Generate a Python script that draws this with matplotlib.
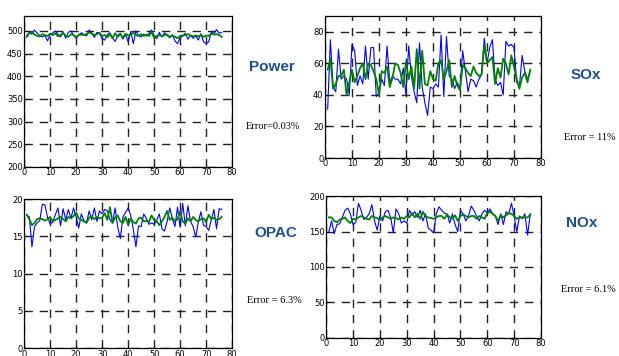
import numpy as np
import matplotlib
matplotlib.use("Agg")
import matplotlib.pyplot as plt

# Measured (blue) and predicted (green) series, x = 1..N
power_meas = [490, 497, 493, 502, 495, 490, 487, 490, 478, 492, 496, 500, 493, 487, 497, 484, 497, 500, 491, 484,
              491, 496, 492, 489, 502, 496, 486, 497, 495, 483, 480, 492, 496, 484, 477, 490, 495, 482, 492, 476,
              499, 472, 500, 490, 487, 493, 489, 494, 502, 490, 483, 497, 487, 496, 490, 485, 492, 478, 472, 485,
              489, 495, 482, 490, 484, 489, 480, 494, 476, 472, 476, 498, 494, 503, 495, 497]
power_pred = [487, 495, 498, 492, 489, 488, 493, 491, 489, 494, 491, 495, 488, 491, 496, 489, 487, 493, 491, 487,
              491, 492, 491, 493, 497, 494, 491, 493, 496, 489, 491, 486, 493, 484, 495, 487, 493, 485, 494, 490,
              491, 497, 491, 489, 493, 489, 492, 489, 498, 485, 489, 491, 488, 491, 492, 487, 490, 487, 484, 489,
              490, 491, 493, 490, 488, 490, 488, 491, 487, 490, 489, 494, 492, 493, 491, 487]

sox_meas = [31, 75, 45, 42, 69, 50, 52, 50, 40, 72, 68, 46, 52, 47, 71, 50, 70, 70, 39, 41,
            50, 46, 71, 48, 52, 50, 50, 47, 57, 40, 71, 52, 42, 35, 73, 45, 35, 27, 45, 44,
            47, 45, 78, 39, 77, 52, 50, 44, 48, 44, 68, 55, 42, 50, 49, 45, 50, 53, 76, 60,
            70, 75, 50, 46, 48, 40, 74, 71, 72, 70, 48, 45, 65, 55, 50, 55]
sox_pred = [56, 63, 44, 47, 52, 52, 56, 40, 48, 56, 48, 52, 57, 60, 50, 60, 59, 55, 50, 40,
            55, 54, 58, 45, 51, 60, 59, 54, 45, 61, 50, 58, 44, 69, 44, 68, 47, 46, 55, 50,
            49, 60, 62, 50, 55, 62, 45, 52, 46, 43, 59, 57, 54, 52, 58, 54, 52, 53, 72, 60,
            62, 64, 47, 57, 51, 63, 60, 53, 65, 58, 50, 44, 51, 54, 48, 56]

opac_meas = [17.8, 17.6, 13.6, 16.3, 16.8, 17.1, 19.3, 19.2, 17.5, 16.7, 16.9, 17.9, 18.8, 16.4, 18.7, 17.2,
             18.6, 17.4, 18.8, 17.6, 16.1, 18.0, 17.1, 16.8, 18.4, 17.2, 18.8, 17.0, 18.4, 18.0, 18.6, 18.4,
             17.2, 16.8, 18.8, 16.2, 14.7, 17.6, 18.2, 18.8, 17.8, 15.9, 13.6, 16.4, 16.3, 18.0, 17.4, 16.6,
             16.8, 16.6, 17.2, 18.0, 16.0, 15.7, 17.0, 18.8, 17.4, 16.3, 18.9, 16.2, 19.4, 16.4, 19.1, 17.0,
             16.3, 14.9, 16.9, 18.3, 16.5, 16.3, 15.8, 17.2, 18.6, 16.0, 18.7, 18.6]
opac_pred = [17.9, 17.3, 16.5, 16.8, 17.3, 17.4, 17.3, 17.1, 17.3, 17.6, 17.0, 17.2, 17.4, 17.6, 17.3, 17.0,
             17.6, 17.4, 17.7, 18.2, 17.4, 17.2, 17.0, 16.8, 17.5, 17.7, 17.3, 17.6, 17.4, 17.5, 18.1, 17.2,
             18.9, 16.8, 17.5, 17.8, 17.0, 16.8, 17.6, 16.5, 17.4, 16.9, 16.7, 17.4, 17.5, 17.0, 17.1, 16.9,
             17.8, 17.2, 17.0, 16.5, 17.0, 17.6, 18.4, 17.2, 17.5, 17.0, 17.3, 18.3, 17.0, 16.7, 17.4, 17.0,
             17.6, 17.2, 17.0, 17.3, 17.4, 16.9, 17.9, 17.3, 17.5, 17.2, 17.3, 17.6]

nox_meas = [150, 165, 147, 160, 161, 170, 180, 183, 175, 160, 163, 190, 180, 167, 170, 175, 188, 165, 152, 172,
            165, 178, 180, 170, 148, 182, 175, 162, 165, 162, 180, 173, 178, 170, 180, 165, 175, 155, 152, 148,
            175, 185, 180, 176, 175, 162, 175, 160, 150, 180, 175, 165, 172, 186, 180, 172, 165, 175, 180, 176,
            182, 175, 172, 160, 175, 160, 178, 175, 190, 172, 150, 172, 168, 175, 145, 175]
nox_pred = [170, 170, 165, 163, 167, 168, 170, 165, 162, 168, 167, 170, 172, 170, 168, 167, 172, 170, 169, 166,
            170, 172, 170, 168, 170, 169, 167, 170, 168, 172, 170, 176, 170, 175, 168, 178, 171, 170, 169, 168,
            170, 172, 172, 168, 174, 170, 168, 173, 165, 172, 174, 172, 170, 172, 172, 168, 172, 170, 168, 176,
            178, 175, 172, 165, 173, 170, 173, 176, 175, 172, 168, 170, 170, 170, 170, 174]

names = ["Power", "SOx", "OPAC", "NOx"]
errors = ["Error=0.03%", "Error = 11%", "Error = 6.3%", "Error = 6.1%"]
yticks = [np.arange(200, 501, 50), np.arange(0, 81, 20), np.arange(0, 21, 5), np.arange(0, 201, 50)]
ylims = [(200, 533), (0, 90), (0, 20), (0, 200)]
series = [(power_meas, power_pred), (sox_meas, sox_pred), (opac_meas, opac_pred), (nox_meas, nox_pred)]

# axes boxes [left, bottom, width, height] and label positions, in figure fractions
boxes = [[0.039, 0.531, 0.336, 0.424], [0.525, 0.556, 0.349, 0.399],
         [0.039, 0.022, 0.336, 0.419], [0.527, 0.051, 0.347, 0.398]]
name_pos = [(0.440, 0.812), (0.947, 0.790), (0.446, 0.345), (0.940, 0.373)]
err_pos = [(0.441, 0.646), (0.995, 0.615), (0.443, 0.157), (0.995, 0.188)]
err_ha = ["center", "right", "center", "right"]

fig = plt.figure(figsize=(6.19, 3.56), dpi=100)
tick_font = ["Liberation Sans Narrow", "DejaVu Sans"]

for i in range(4):
    ax = fig.add_axes(boxes[i])
    meas, pred = series[i]
    ax.plot(np.arange(1, len(meas) + 1), meas, color="#0000ff", lw=0.8, zorder=3)
    ax.plot(np.arange(1, len(pred) + 1), pred, color="#007f00", lw=1.3, zorder=4)
    ax.set_xlim(0, 80)
    ax.set_ylim(*ylims[i])
    ax.set_xticks(np.arange(0, 81, 10))
    ax.set_yticks(yticks[i])
    ax.grid(True, color="#222222", lw=1.0, linestyle=(0, (6, 5)))
    ax.tick_params(direction="in", length=2, width=0.6, pad=1, labelsize=6)
    for lab in ax.get_xticklabels() + ax.get_yticklabels():
        lab.set_family(tick_font)
    for s in ax.spines.values():
        s.set_linewidth(0.9)
    fig.text(*name_pos[i], names[i], ha="center", va="center", fontsize=11, fontweight="bold",
             color="#1f4e8c", family=["Liberation Sans", "DejaVu Sans"])
    fig.text(*err_pos[i], errors[i], ha=err_ha[i], va="center", fontsize=7.5,
             family=["Liberation Serif", "DejaVu Serif"])

fig.savefig("out.png", dpi=100)
